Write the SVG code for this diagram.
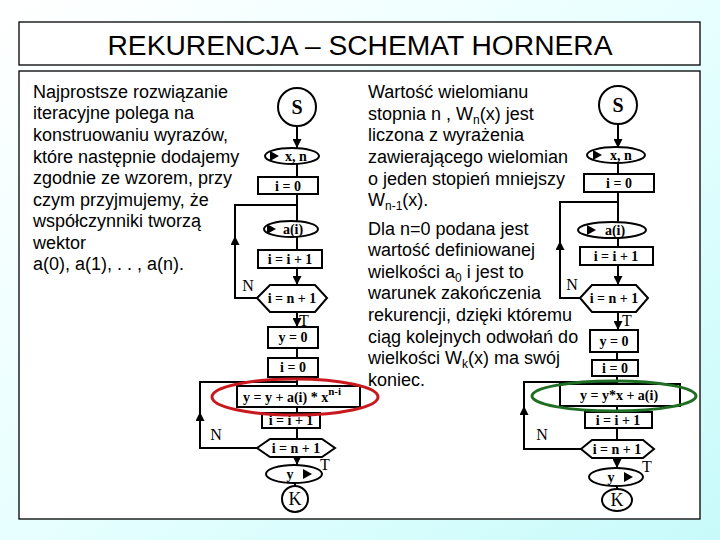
<svg xmlns="http://www.w3.org/2000/svg" width="720" height="540" viewBox="0 0 720 540">
<defs>
<linearGradient id="bg" x1="0" y1="0" x2="1" y2="1">
<stop offset="0" stop-color="#FFFFFF"/>
<stop offset="0.5" stop-color="#E8FFFF"/>
<stop offset="1" stop-color="#C8FAFA"/>
</linearGradient>
<marker id="arr" viewBox="0 0 10 10" refX="10" refY="5" markerWidth="9" markerHeight="9" markerUnits="userSpaceOnUse" orient="auto">
<path d="M0,0 L10,5 L0,10 z" fill="#000"/>
</marker>
<style>
.box{fill:#fff;stroke:#000;stroke-width:2}
.ln{fill:none;stroke:#000;stroke-width:2}
.ft{font-family:"Liberation Serif","Times New Roman",serif;font-weight:bold;font-size:14px;text-anchor:middle;fill:#000}
.big{font-size:20px}
.lbl{font-family:"Liberation Serif","Times New Roman",serif;font-size:16px;text-anchor:middle;fill:#000}
.k{font-size:18px}
.body{font-family:"Liberation Sans",Arial,sans-serif;font-size:18px;fill:#000}
.sub{font-size:12px}
.tri{fill:#000}
</style>
</defs>
<rect x="0" y="0" width="720" height="540" fill="url(#bg)"/>
<g id="title">
<rect x="19" y="22" width="681" height="43" fill="#fff" stroke="#000" stroke-width="1.3"/>
<text x="360" y="55" font-family="Liberation Sans, Arial, sans-serif" font-size="27" text-anchor="middle" textLength="505" lengthAdjust="spacingAndGlyphs">REKURENCJA – SCHEMAT HORNERA</text>
</g>
<g id="content-frame">
<rect x="19" y="71" width="681" height="448" fill="#fff" stroke="#000" stroke-width="1.3"/>
</g>
<g id="left-text" class="body">
<text x="33" y="98">Najprostsze rozwiązanie</text>
<text x="33" y="119">iteracyjne polega na</text>
<text x="33" y="141">konstruowaniu wyrazów,</text>
<text x="33" y="163">które następnie dodajemy</text>
<text x="33" y="184">zgodnie ze wzorem, przy</text>
<text x="33" y="206">czym przyjmujemy, że</text>
<text x="33" y="227">współczynniki tworzą</text>
<text x="33" y="249">wektor</text>
<text x="33" y="270">a(0), a(1), . . , a(n).</text>
</g>
<g id="right-text" class="body">
<text x="368" y="98">Wartość wielomianu</text>
<text x="368" y="120">stopnia n , W<tspan class="sub" dy="4">n</tspan><tspan dy="-4">(x) jest</tspan></text>
<text x="368" y="141">liczona z wyrażenia</text>
<text x="368" y="163">zawierającego wielomian</text>
<text x="368" y="185">o jeden stopień mniejszy</text>
<text x="368" y="206">W<tspan class="sub" dy="4">n-1</tspan><tspan dy="-4">(x).</tspan></text>
<text x="368" y="235">Dla n=0 podana jest</text>
<text x="368" y="256">wartość definiowanej</text>
<text x="368" y="278">wielkości a<tspan class="sub" dy="4">0</tspan><tspan dy="-4"> i jest to</tspan></text>
<text x="368" y="299">warunek zakończenia</text>
<text x="368" y="321">rekurencji, dzięki któremu</text>
<text x="368" y="343">ciąg kolejnych odwołań do</text>
<text x="368" y="364">wielkości W<tspan class="sub" dy="4">k</tspan><tspan dy="-4">(x) ma swój</tspan></text>
<text x="368" y="386">koniec.</text>
</g>
<g id="connectors">
<line class="ln" x1="297" y1="127" x2="297" y2="148" marker-end="url(#arr)"/>
<line class="ln" x1="297" y1="164" x2="297" y2="177"/>
<line class="ln" x1="297" y1="194" x2="297" y2="221"/>
<polyline class="ln" points="297,205 235,205 235,298 257,298"/>
<line class="ln" x1="235" y1="250" x2="235" y2="236" marker-end="url(#arr)"/>
<line class="ln" x1="297" y1="237" x2="297" y2="250"/>
<line class="ln" x1="297" y1="268" x2="297" y2="285" marker-end="url(#arr)"/>
<line class="ln" x1="297" y1="312" x2="297" y2="327" marker-end="url(#arr)"/>
<line class="ln" x1="297" y1="348" x2="297" y2="358"/>
<line class="ln" x1="297" y1="377" x2="297" y2="386"/>
<polyline class="ln" points="297,382 200,382 200,448 257,448"/>
<line class="ln" x1="200" y1="425" x2="200" y2="412" marker-end="url(#arr)"/>
<line class="ln" x1="297" y1="407" x2="297" y2="413"/>
<line class="ln" x1="297" y1="428" x2="297" y2="439"/>
<line class="ln" x1="297" y1="457" x2="297" y2="465" marker-end="url(#arr)"/>
<line class="ln" x1="295" y1="482" x2="295" y2="486"/>
<line class="ln" x1="618" y1="124" x2="618" y2="148" marker-end="url(#arr)"/>
<line class="ln" x1="618" y1="163" x2="618" y2="174"/>
<line class="ln" x1="618" y1="192" x2="618" y2="222"/>
<polyline class="ln" points="618,202 560,202 560,298 580,298"/>
<line class="ln" x1="560" y1="255" x2="560" y2="241" marker-end="url(#arr)"/>
<line class="ln" x1="618" y1="238" x2="618" y2="247"/>
<line class="ln" x1="618" y1="265" x2="618" y2="285" marker-end="url(#arr)"/>
<line class="ln" x1="618" y1="312" x2="618" y2="330" marker-end="url(#arr)"/>
<line class="ln" x1="617" y1="352" x2="617" y2="360"/>
<line class="ln" x1="617" y1="376" x2="617" y2="384"/>
<polyline class="ln" points="617,382 524,382 524,449 581,449"/>
<line class="ln" x1="524" y1="420" x2="524" y2="406" marker-end="url(#arr)"/>
<line class="ln" x1="617" y1="406" x2="617" y2="412"/>
<line class="ln" x1="617" y1="428" x2="617" y2="440"/>
<line class="ln" x1="617" y1="458" x2="617" y2="468" marker-end="url(#arr)"/>
<line class="ln" x1="617" y1="486" x2="617" y2="489"/>
</g>
<g id="L-start"><circle class="box" cx="297" cy="107" r="19"/><text class="ft big" x="297" y="114">S</text></g>
<g id="L-input-xn"><ellipse class="box" cx="292" cy="156" rx="27" ry="8"/><path class="tri" d="M270,151 L279,156 L270,161 z"/><text class="ft" x="296" y="161">x, n</text></g>
<g id="L-i0"><rect class="box" x="258" y="177" width="60" height="17"/><text class="ft" x="288" y="191">i = 0</text></g>
<g id="L-input-ai"><ellipse class="box" cx="291" cy="229" rx="27" ry="8"/><path class="tri" d="M267,224 L276,229 L267,234 z"/><text class="ft" x="293" y="234">a(i)</text></g>
<g id="L-inc1"><rect class="box" x="258" y="250" width="64" height="18"/><text class="ft" x="290" y="264">i = i + 1</text></g>
<g id="L-cond1"><polygon class="box" points="257,298 270,285 315,285 327,298 315,312 270,312"/><text class="ft" x="292" y="303">i = n + 1</text></g>
<g id="L-y0"><rect class="box" x="268" y="327" width="50" height="21"/><text class="ft" x="293" y="342">y = 0</text></g>
<g id="L-i0b"><rect class="box" x="268" y="358" width="50" height="19"/><text class="ft" x="293" y="372">i = 0</text></g>
<g id="L-sum"><rect class="box" x="237" y="386" width="123" height="21"/><text class="ft" x="292" y="402">y = y + a(i) * x<tspan font-size="11" dy="-7">n-i</tspan></text></g>
<g id="L-inc2"><rect class="box" x="262" y="413" width="58" height="15"/><text class="ft" x="291" y="425">i = i + 1</text></g>
<g id="L-cond2"><polygon class="box" points="257,448 270,439 322,439 335,448 322,457 270,457"/><text class="ft" x="296" y="453">i = n + 1</text></g>
<g id="L-output"><ellipse class="box" cx="294" cy="474" rx="28" ry="9"/><text class="ft" x="290" y="479">y</text><path class="tri" d="M303,469 L312,474 L303,479 z"/></g>
<g id="L-end"><circle class="box" cx="295" cy="499" r="13"/><text class="lbl k" x="295" y="505">K</text></g>
<g id="L-labels"><text class="lbl" x="248" y="291">N</text><text class="lbl" x="304" y="326">T</text><text class="lbl" x="216" y="440">N</text><text class="lbl" x="325" y="470">T</text></g>
<g id="R-start"><circle class="box" cx="618" cy="105" r="19"/><text class="ft big" x="618" y="112">S</text></g>
<g id="R-input-xn"><ellipse class="box" cx="616" cy="155" rx="29" ry="8"/><path class="tri" d="M593,150 L602,155 L593,160 z"/><text class="ft" x="621" y="160">x, n</text></g>
<g id="R-i0"><rect class="box" x="584" y="174" width="70" height="18"/><text class="ft" x="619" y="188">i = 0</text></g>
<g id="R-input-ai"><ellipse class="box" cx="612" cy="230" rx="34" ry="8"/><path class="tri" d="M587,225 L596,230 L587,235 z"/><text class="ft" x="615" y="235">a(i)</text></g>
<g id="R-inc1"><rect class="box" x="580" y="247" width="73" height="18"/><text class="ft" x="616" y="261">i = i + 1</text></g>
<g id="R-cond1"><polygon class="box" points="580,298 592,285 636,285 648,298 636,312 592,312"/><text class="ft" x="614" y="303">i = n + 1</text></g>
<g id="R-y0"><rect class="box" x="590" y="330" width="48" height="22"/><text class="ft" x="614" y="346">y = 0</text></g>
<g id="R-i0b"><rect class="box" x="592" y="360" width="46" height="16"/><text class="ft" x="615" y="373">i = 0</text></g>
<g id="R-horner"><rect class="box" x="560" y="384" width="120" height="22"/><text class="ft" x="619" y="400">y = y*x + a(i)</text></g>
<g id="R-inc2"><rect class="box" x="585" y="412" width="67" height="16"/><text class="ft" x="618" y="425">i = i + 1</text></g>
<g id="R-cond2"><polygon class="box" points="581,449 592,440 643,440 654,449 643,458 592,458"/><text class="ft" x="617" y="454">i = n + 1</text></g>
<g id="R-output"><ellipse class="box" cx="616" cy="477" rx="27" ry="9"/><text class="ft" x="611" y="482">y</text><path class="tri" d="M624,472 L633,477 L624,482 z"/></g>
<g id="R-end"><ellipse class="box" cx="617" cy="500" rx="15" ry="11"/><text class="lbl k" x="617" y="506">K</text></g>
<g id="R-labels"><text class="lbl" x="572" y="290">N</text><text class="lbl" x="627" y="326">T</text><text class="lbl" x="542" y="440">N</text><text class="lbl" x="647" y="472">T</text></g>
<g id="highlights">
<ellipse cx="295" cy="397" rx="83" ry="18" fill="none" stroke="#C8191E" stroke-width="3"/>
<ellipse cx="614" cy="396" rx="82" ry="15" fill="none" stroke="#1E6E23" stroke-width="3"/>
</g>
</svg>
